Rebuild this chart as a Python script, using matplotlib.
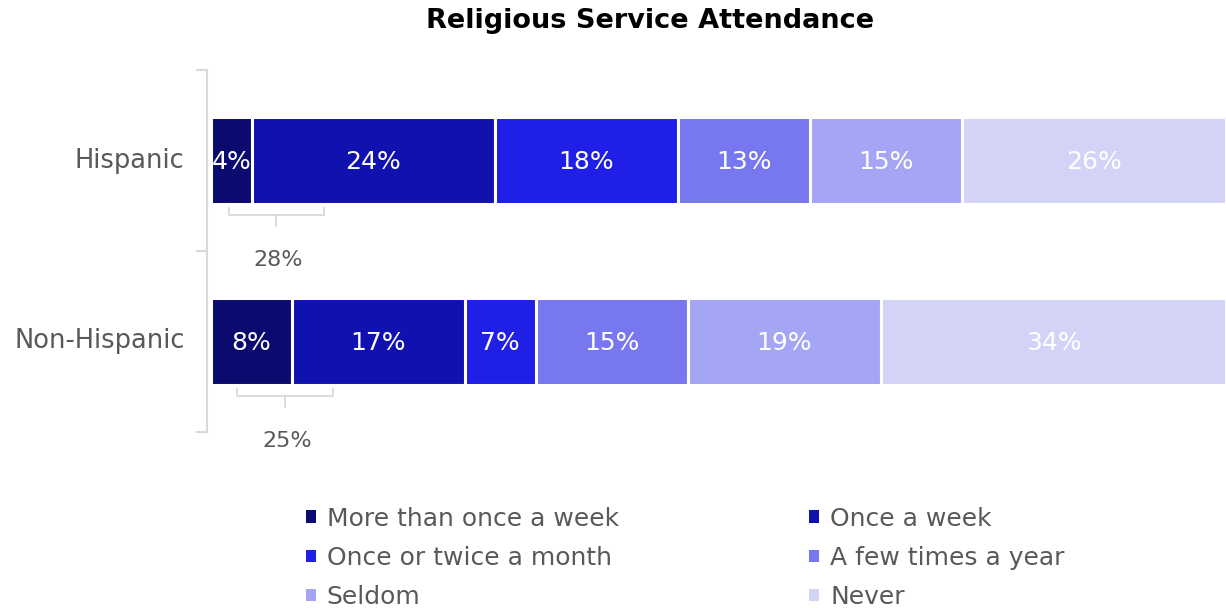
import matplotlib
matplotlib.use('Agg')
import matplotlib.pyplot as plt
import numpy as np

# data
groups = ['Hispanic', 'Non-Hispanic']
categories = ['More than once a week', 'Once a week', 'Once or twice a month',
              'A few times a year', 'Seldom', 'Never']
hispanic = [4, 24, 18, 13, 15, 26]
non_hispanic = [8, 17, 7, 15, 19, 34]
values = np.array([hispanic, non_hispanic])

COLORS = ['#0b0b6f', '#1111b0', '#1f1fe8', '#7777ef', '#a5a5f5', '#d3d3f8']
GREY = '#595959'
plt.rcParams['font.family'] = ['DejaVu Sans']

fig = plt.figure(figsize=(12.26, 6.08), dpi=100)
ax = fig.add_axes([211 / 1226, 1 - 432 / 608, 1 - 211 / 1226, (432 - 70) / 608])

y = np.arange(len(groups))
left = np.zeros(len(groups))
handles = []
for i, cat in enumerate(categories):
    v = values[:, i]
    bars = ax.barh(y, v, left=left, height=0.48, color=COLORS[i],
                   edgecolor='white', linewidth=2.2, label=cat)
    handles.append(bars)
    for yy, l, w in zip(y, left, v):
        ax.text(l + w / 2, yy + 0.01, f'{w}%', ha='center', va='center',
                color='white', fontsize=18)
    left += v

ax.set_xlim(0, 100)
ax.set_ylim(1.5, -0.5)
ax.set_yticks([-0.5, 0.5, 1.5])
ax.set_yticklabels([])
ax.set_xticks([])
for s in ('top', 'right', 'bottom'):
    ax.spines[s].set_visible(False)
ax.spines['left'].set_color('#d9d9d9')
ax.spines['left'].set_linewidth(1.5)
ax.spines['left'].set_position(('outward', 3))
ax.tick_params(axis='y', length=8, color='#d9d9d9', width=1.5)
for yy, g in zip(y, groups):
    ax.text(-2.6, yy, g, ha='right', va='center', color=GREY, fontsize=18.5)

# brackets summing the two most frequent attendance categories
bracket_x = [(1.8, 11.1), (2.6, 12.0)]
for yy, (x1, x2), row in zip(y, bracket_x, values):
    top = yy + 0.26
    bot = yy + 0.30
    xm = (x1 + x2) / 2
    ax.plot([x1, x1, x2, x2], [top, bot, bot, top], color='#d9d9d9', lw=1.3,
            clip_on=False)
    ax.plot([xm, xm], [bot, bot + 0.06], color='#d9d9d9', lw=1.3, clip_on=False)
    ax.text(xm + 0.2, yy + 0.55, f'{row[0] + row[1]}%', ha='center', va='center',
            color=GREY, fontsize=16)

fig.text(650 / 1226, 1 - 21 / 608, 'Religious Service Attendance', ha='center',
         va='center', fontsize=19.5, fontweight='bold', color='black')

# legend filled row by row (matplotlib fills column-wise)
order = [0, 2, 4, 1, 3, 5]
leg = fig.legend([handles[k] for k in order], [categories[k] for k in order],
                 loc='upper left', bbox_to_anchor=(288 / 1226, 1 - 489 / 608),
                 ncol=2, frameon=False, fontsize=18, labelcolor=GREY,
                 handlelength=0.4, handleheight=0.4, handletextpad=0.45,
                 columnspacing=7.6, labelspacing=0.61, borderpad=0.2)
for h in leg.legend_handles:
    h.set_edgecolor('none')

fig.savefig('out.png', dpi=100)
